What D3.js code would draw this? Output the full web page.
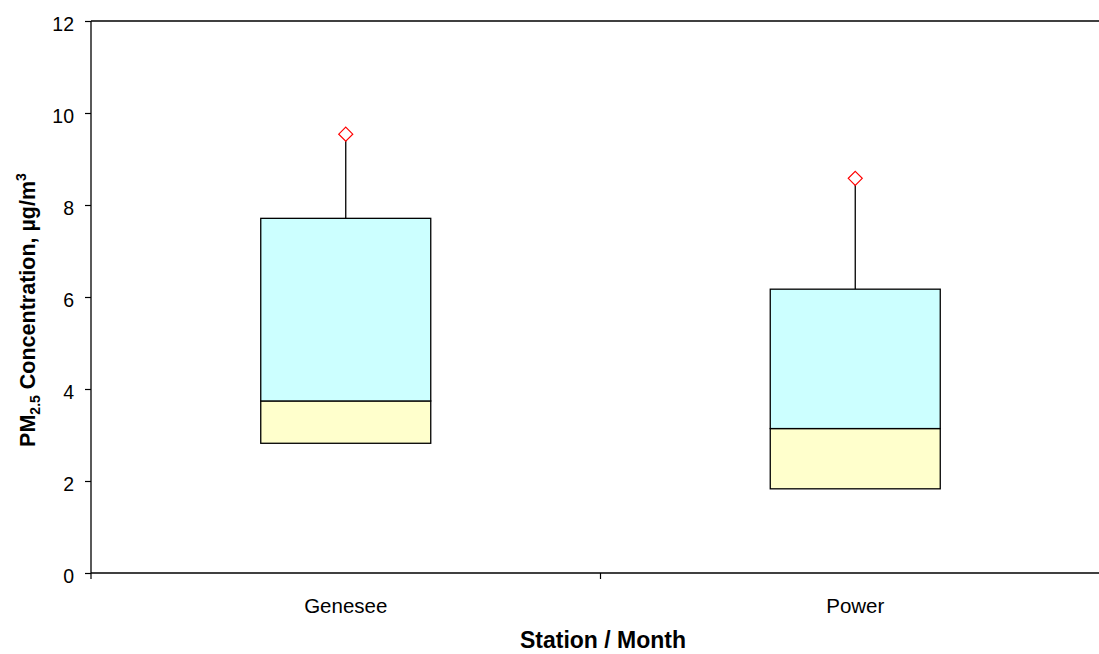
<!DOCTYPE html>
<html><head><meta charset="utf-8">
<script src="https://cdn.jsdelivr.net/npm/d3@7/dist/d3.min.js"></script>
<style>body{margin:0;background:#fff}svg{display:block}text{font-family:"Liberation Sans",Arial,sans-serif}</style>
</head><body>
<script>
const categories = ["Genesee", "Power"];
const lowerQ = [2.82, 1.83];
const medians = [3.74, 3.14];
const upperQ = [7.71, 6.17];
const maxima = [9.54, 8.58];
const yTicks = [0, 2, 4, 6, 8, 10, 12];

const W = 1099, H = 654;
const m = {left: 91, top: 21, right: 1110, bottom: 573};
const svg = d3.select("body").append("svg").attr("width", W).attr("height", H);

const x = d3.scaleBand().domain(categories).range([m.left, m.right]);
const y = d3.scaleLinear().domain([0, 12]).range([m.bottom, m.top]);

// top border
svg.append("line").attr("x1", m.left).attr("x2", W).attr("y1", m.top).attr("y2", m.top)
  .attr("stroke", "#000").attr("stroke-width", 1.3);

const data = categories.map((c, i) => ({c, q1: lowerQ[i], med: medians[i], q3: upperQ[i], max: maxima[i]}));
const bw = 170;

const g = svg.append("g");
data.forEach(d => {
  const cx = x(d.c) + x.bandwidth() / 2;
  g.append("line").attr("x1", cx).attr("x2", cx).attr("y1", y(d.max)).attr("y2", y(d.q3))
    .attr("stroke", "#000").attr("stroke-width", 1.3);
  g.append("rect").attr("x", cx - bw / 2).attr("width", bw).attr("y", y(d.med)).attr("height", y(d.q1) - y(d.med))
    .attr("fill", "#ffffcc").attr("stroke", "#000").attr("stroke-width", 1.3);
  g.append("rect").attr("x", cx - bw / 2).attr("width", bw).attr("y", y(d.q3)).attr("height", y(d.med) - y(d.q3))
    .attr("fill", "#ccffff").attr("stroke", "#000").attr("stroke-width", 1.3);
  const s = 7;
  g.append("path").attr("d", `M${cx},${y(d.max) - s}L${cx + s},${y(d.max)}L${cx},${y(d.max) + s}L${cx - s},${y(d.max)}Z`)
    .attr("fill", "#fff").attr("stroke", "#ff0000").attr("stroke-width", 1.2);
});

// y axis
const ya = svg.append("g").attr("transform", `translate(${m.left},0)`)
  .call(d3.axisLeft(y).tickValues(yTicks).tickSize(6).tickPadding(11).tickFormat(d3.format("d")));
ya.select(".domain").attr("stroke-width", 1.3).attr("d", `M0,${m.bottom}V${m.top}`);
ya.selectAll(".tick line").attr("stroke-width", 1.2);
ya.selectAll("text").attr("font-size", 19.5).attr("fill", "#000").attr("dy", "0.5em")
  .style("font-family", "Liberation Sans, Arial, sans-serif");

// x axis
const xa = svg.append("g").attr("transform", `translate(0,${m.bottom})`)
  .call(d3.axisBottom(x).tickSize(0).tickPadding(25));
xa.select(".domain").attr("stroke-width", 1.3).attr("d", `M${m.left},0H${W}`);
xa.selectAll("text").attr("font-size", 20.5).attr("fill", "#000")
  .style("font-family", "Liberation Sans, Arial, sans-serif");
// band boundary ticks
const bounds = [m.left, m.left + x.bandwidth()];
svg.selectAll(".bt").data(bounds).enter().append("line")
  .attr("x1", d => d).attr("x2", d => d).attr("y1", m.bottom).attr("y2", m.bottom + 6)
  .attr("stroke", "#000").attr("stroke-width", 1.2);

// titles
svg.append("text").attr("x", 603).attr("y", 648).attr("text-anchor", "middle")
  .attr("font-size", 23).attr("font-weight", "bold").text("Station / Month");

const yt = svg.append("text").attr("transform", `translate(35,310) rotate(-90)`).attr("text-anchor", "middle")
  .attr("font-size", 21.5).attr("font-weight", "bold");
yt.append("tspan").text("PM");
yt.append("tspan").attr("font-size", 14).attr("dy", 5).text("2.5");
yt.append("tspan").attr("dy", -5).text(" Concentration, µg/m");
yt.append("tspan").attr("font-size", 14).attr("dy", -9).text("3");
</script>
</body></html>
